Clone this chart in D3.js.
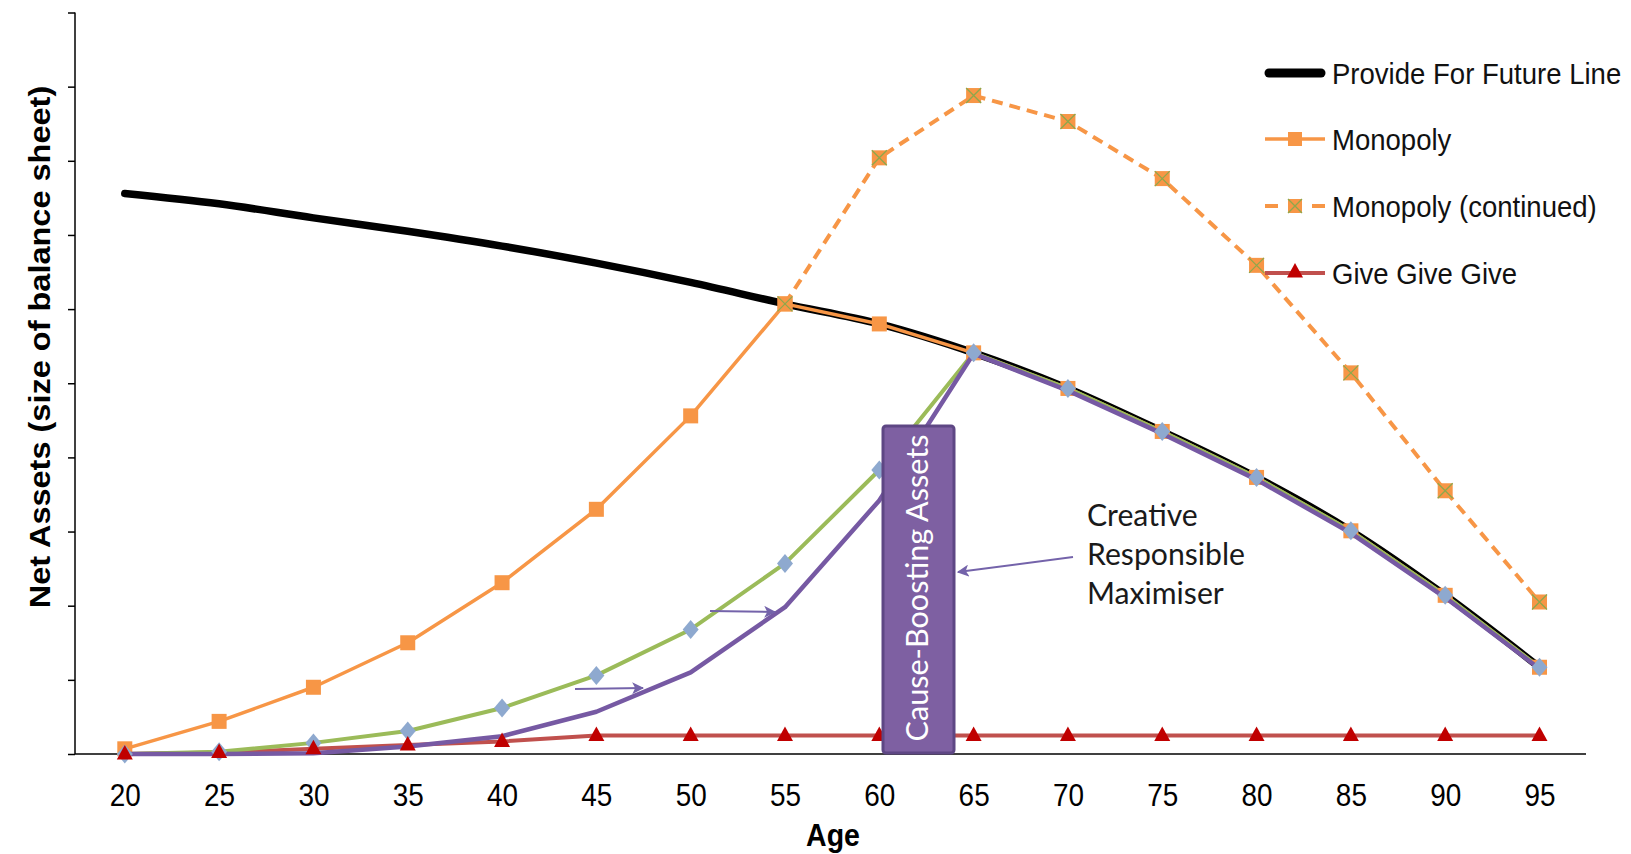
<!DOCTYPE html>
<html>
<head>
<meta charset="utf-8">
<script src="https://cdn.jsdelivr.net/npm/d3@7"></script>
<style>
  html, body { margin: 0; padding: 0; background: #fff; }
  svg { display: block; }
</style>
</head>
<body>
<svg id="chart" width="1631" height="854"></svg>
<script>
// ---------- data ----------
const ages = [20, 25, 30, 35, 40, 45, 50, 55, 60, 65, 70, 75, 80, 85, 90, 95];
const yTicks = [0, 1, 2, 3, 4, 5, 6, 7, 8, 9, 10];
const provideForFuture = [7.56, 7.42, 7.23, 7.05, 6.85, 6.62, 6.36, 6.07, 5.80, 5.41, 4.93, 4.35, 3.73, 3.01, 2.14, 1.17];
const monopoly = [0.07, 0.44, 0.90, 1.50, 2.31, 3.30, 4.56, 6.07, 5.80, 5.41, 4.93, 4.35, 3.73, 3.01, 2.14, 1.17];
const monopolyContinued = [null, null, null, null, null, null, null, 6.07, 8.04, 8.88, 8.53, 7.76, 6.59, 5.14, 3.55, 2.05];
const giveGiveGive = [0, 0.02, 0.07, 0.12, 0.17, 0.25, 0.25, 0.25, 0.25, 0.25, 0.25, 0.25, 0.25, 0.25, 0.25, 0.25];
const causeBoosting = [0, 0.03, 0.15, 0.31, 0.62, 1.06, 1.68, 2.57, 3.83, 5.41, 4.93, 4.35, 3.73, 3.01, 2.14, 1.17];
const creativeResponsible = [0, 0, 0.01, 0.10, 0.24, 0.57, 1.10, 1.98, 3.42, 5.40, 4.90, 4.32, 3.70, 2.98, 2.11, 1.15];
const legendLabels = ["Provide For Future Line", "Monopoly", "Monopoly (continued)", "Give Give Give"];
const axisTitles = { x: "Age", y: "Net Assets (size of balance sheet)" };
const boxLabel = "Cause-Boosting Assets";
const noteLines = ["Creative", "Responsible", "Maximiser"];

// ---------- layout ----------
const svg = d3.select("#chart");
const axisX0 = 75, axisX1 = 1586, axisY = 754, axisTop = 12.5;
const x = d3.scalePoint().domain(ages).range([124.8, 1539.5]);
const y = d3.scaleLinear().domain([0, 10]).range([axisY, axisTop]);

const C = {
  black: "#000000", orange: "#F79646", green: "#9BBB59", diamond: "#8EA9CF",
  purple: "#7659A3", red: "#C0504D", tri: "#C00000", xmark: "#8DA84C",
  box: "#7E60A2", boxStroke: "#5E4784", arrow: "#7463AA"
};
const ARIAL = "'Liberation Sans', Arial, sans-serif";

const defs = svg.append("defs");
defs.append("marker").attr("id", "ah").attr("viewBox", "0 0 10 10")
  .attr("refX", 9).attr("refY", 5).attr("markerWidth", 6).attr("markerHeight", 6)
  .attr("markerUnits", "strokeWidth").attr("orient", "auto")
  .append("path").attr("d", "M0,0 L10,5 L0,10 L2.5,5 Z").attr("fill", C.arrow);

// ---------- axes ----------
const yAxis = d3.axisLeft(y).tickValues(yTicks).tickSize(7).tickFormat("");
const gy = svg.append("g").attr("transform", `translate(${axisX0},0)`).call(yAxis);
gy.select(".domain").remove();
gy.selectAll(".tick line").attr("stroke", "#000").attr("stroke-width", 1.5);
svg.append("line").attr("x1", axisX0).attr("x2", axisX0).attr("y1", axisTop).attr("y2", axisY)
  .attr("stroke", "#000").attr("stroke-width", 1.5);

const xAxis = d3.axisBottom(x).tickSize(0).tickPadding(0);
const gx = svg.append("g").attr("transform", `translate(0,${axisY})`).call(xAxis);
gx.select(".domain").remove();
gx.selectAll(".tick text")
  .attr("font-family", ARIAL)
  .attr("font-size", 31).attr("fill", "#000")
  .attr("dy", null).attr("y", 0)
  .attr("transform", "translate(0,52) scale(0.9,1)");
svg.append("line").attr("x1", axisX0).attr("x2", axisX1).attr("y1", axisY).attr("y2", axisY)
  .attr("stroke", "#000").attr("stroke-width", 1.5);

svg.append("text").text(axisTitles.x)
  .attr("transform", "translate(833,846) scale(0.92,1)")
  .attr("text-anchor", "middle")
  .attr("font-family", ARIAL)
  .attr("font-weight", "bold").attr("font-size", 31).attr("fill", "#000");

svg.append("text").text(axisTitles.y)
  .attr("transform", "translate(50,347) scale(0.92,1) rotate(-90)")
  .attr("text-anchor", "middle")
  .attr("font-family", ARIAL)
  .attr("font-weight", "bold").attr("font-size", 32.5).attr("fill", "#000");

// ---------- lines ----------
const lineGen = (curve) => d3.line()
  .defined(d => d.v !== null)
  .x(d => x(d.age)).y(d => y(d.v)).curve(curve);
const pts = arr => ages.map((a, i) => ({ age: a, v: arr[i] }));

const plot = svg.append("g");

// Provide For Future Line
plot.append("path").attr("d", lineGen(d3.curveMonotoneX)(pts(provideForFuture)))
  .attr("fill", "none").attr("stroke", C.black).attr("stroke-width", 7.5)
  .attr("stroke-linecap", "round").attr("stroke-linejoin", "round");

// Monopoly
plot.append("path").attr("d", lineGen(d3.curveLinear)(pts(monopoly)))
  .attr("fill", "none").attr("stroke", C.orange).attr("stroke-width", 3.5)
  .attr("stroke-linejoin", "round");

// Monopoly (continued)
plot.append("path").attr("d", lineGen(d3.curveLinear)(pts(monopolyContinued)))
  .attr("fill", "none").attr("stroke", C.orange).attr("stroke-width", 4)
  .attr("stroke-dasharray", "11,7");

// Give Give Give
plot.append("path").attr("d", lineGen(d3.curveLinear)(pts(giveGiveGive)))
  .attr("fill", "none").attr("stroke", C.red).attr("stroke-width", 4);

// Green growth line
plot.append("path").attr("d", lineGen(d3.curveLinear)(pts(causeBoosting)))
  .attr("fill", "none").attr("stroke", C.green).attr("stroke-width", 4)
  .attr("stroke-linejoin", "round");

// Monopoly markers
const sq = 15;
plot.selectAll(".mono").data(pts(monopoly)).join("rect")
  .attr("x", d => x(d.age) - sq / 2).attr("y", d => y(d.v) - sq / 2)
  .attr("width", sq).attr("height", sq).attr("fill", C.orange);

// Monopoly (continued) markers
const mc = pts(monopolyContinued).filter(d => d.v !== null);
const mcG = plot.selectAll(".monoc").data(mc).join("g")
  .attr("transform", d => `translate(${x(d.age)},${y(d.v)})`);
mcG.append("rect").attr("x", -sq / 2).attr("y", -sq / 2).attr("width", sq).attr("height", sq).attr("fill", C.orange);
mcG.append("path").attr("d", `M${-sq/2},${-sq/2}L${sq/2},${sq/2}M${sq/2},${-sq/2}L${-sq/2},${sq/2}`)
  .attr("stroke", C.xmark).attr("stroke-width", 1.3);

// Purple line
plot.append("path").attr("d", lineGen(d3.curveLinear)(pts(creativeResponsible)))
  .attr("fill", "none").attr("stroke", C.purple).attr("stroke-width", 4.5)
  .attr("stroke-linejoin", "round");

// Diamonds
const dw = 8, dh = 9.5;
plot.selectAll(".dia").data(pts(causeBoosting)).join("path")
  .attr("d", d => { const cx = x(d.age), cy = y(d.v);
    return `M${cx},${cy - dh}L${cx + dw},${cy}L${cx},${cy + dh}L${cx - dw},${cy}Z`; })
  .attr("fill", C.diamond);

// Triangles
const triPath = (cx, cy) => `M${cx},${cy - 9}L${cx + 8},${cy + 5.5}L${cx - 8},${cy + 5.5}Z`;
plot.selectAll(".tri").data(pts(giveGiveGive)).join("path")
  .attr("d", d => triPath(x(d.age), y(d.v)))
  .attr("fill", C.tri);

// ---------- annotation box ----------
svg.append("rect").attr("x", 883).attr("y", 426).attr("width", 71).attr("height", 327)
  .attr("rx", 3).attr("fill", C.box).attr("stroke", C.boxStroke).attr("stroke-width", 3);
const bt = svg.append("text").text(boxLabel)
  .attr("transform", "translate(928,588) rotate(-90)")
  .attr("text-anchor", "middle")
  .attr("font-family", "Lato, 'Open Sans', sans-serif")
  .attr("font-size", 30).attr("fill", "#fff");
{ const w = bt.node().getComputedTextLength(); bt.attr("font-size", 30 * 307 / w); }

// note text
const note = svg.append("text")
  .attr("font-family", "Lato, 'Open Sans', sans-serif")
  .attr("font-size", 28).attr("fill", "#1a1a1a");
note.selectAll("tspan").data(noteLines).join("tspan")
  .attr("x", 1087).attr("y", (d, i) => 526 + i * 39).text(d => d);
{ const w = note.selectAll("tspan").nodes()[1].getComputedTextLength(); note.attr("font-size", 28 * 158 / w); }

// arrows
const arrows = [[1073, 557, 958, 572], [575, 689, 643, 688], [710, 611, 775, 612]];
svg.selectAll(".arr").data(arrows).join("line")
  .attr("x1", d => d[0]).attr("y1", d => d[1]).attr("x2", d => d[2]).attr("y2", d => d[3])
  .attr("stroke", C.arrow).attr("stroke-width", 2).attr("marker-end", "url(#ah)");

// ---------- legend ----------
const lg = svg.append("g");
const rowsY = [73, 139, 206, 273];
const lx0 = 1265, lx1 = 1325, lmid = 1295, tx = 1332;
// Provide
lg.append("line").attr("x1", lx0 + 4).attr("x2", lx1 - 4).attr("y1", rowsY[0]).attr("y2", rowsY[0])
  .attr("stroke", C.black).attr("stroke-width", 9).attr("stroke-linecap", "round");
// Monopoly
lg.append("line").attr("x1", lx0).attr("x2", lx1).attr("y1", rowsY[1]).attr("y2", rowsY[1])
  .attr("stroke", C.orange).attr("stroke-width", 3.5);
lg.append("rect").attr("x", lmid - 7).attr("y", rowsY[1] - 7).attr("width", 14).attr("height", 14).attr("fill", C.orange);
// Monopoly continued
lg.append("line").attr("x1", lx0).attr("x2", lx0 + 13).attr("y1", rowsY[2]).attr("y2", rowsY[2])
  .attr("stroke", C.orange).attr("stroke-width", 4);
lg.append("line").attr("x1", lx1 - 13).attr("x2", lx1).attr("y1", rowsY[2]).attr("y2", rowsY[2])
  .attr("stroke", C.orange).attr("stroke-width", 4);
lg.append("rect").attr("x", lmid - 7).attr("y", rowsY[2] - 7).attr("width", 14).attr("height", 14).attr("fill", C.orange);
lg.append("path").attr("d", `M${lmid-7},${rowsY[2]-7}L${lmid+7},${rowsY[2]+7}M${lmid+7},${rowsY[2]-7}L${lmid-7},${rowsY[2]+7}`)
  .attr("stroke", C.xmark).attr("stroke-width", 1.3);
// Give
lg.append("line").attr("x1", lx0).attr("x2", lx1).attr("y1", rowsY[3]).attr("y2", rowsY[3])
  .attr("stroke", C.red).attr("stroke-width", 4);
lg.append("path").attr("d", triPath(lmid, rowsY[3] - 1)).attr("fill", C.tri);

lg.selectAll(".lt").data(legendLabels).join("text")
  .attr("transform", (d, i) => `translate(${tx},${rowsY[i] + 10.5}) scale(0.95,1)`)
  .attr("font-family", ARIAL)
  .attr("font-size", 29).attr("fill", "#111").text(d => d);
</script>
</body>
</html>
